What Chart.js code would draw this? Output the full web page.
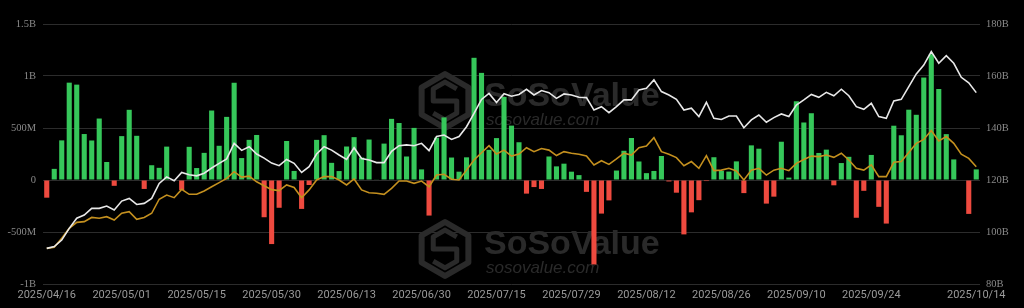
<!DOCTYPE html>
<html>
<head>
<meta charset="utf-8">
<script src="https://cdn.jsdelivr.net/npm/chart.js@4.4.1/dist/chart.umd.min.js"></script>
<style>
  html, body { margin: 0; padding: 0; background: #000; }
  #wrap { width: 1024px; height: 308px; position: relative; }
</style>
</head>
<body>
<div id="wrap"><canvas id="c"></canvas></div>
<script>
// ---- Data ----
const dates = [
 '2025/04/16','2025/04/17','2025/04/21','2025/04/22','2025/04/23','2025/04/24','2025/04/25','2025/04/28','2025/04/29','2025/04/30',
 '2025/05/01','2025/05/02','2025/05/05','2025/05/06','2025/05/07','2025/05/08','2025/05/09','2025/05/12','2025/05/13','2025/05/14',
 '2025/05/15','2025/05/16','2025/05/19','2025/05/20','2025/05/21','2025/05/22','2025/05/23','2025/05/27','2025/05/28','2025/05/29',
 '2025/05/30','2025/06/02','2025/06/03','2025/06/04','2025/06/05','2025/06/06','2025/06/09','2025/06/10','2025/06/11','2025/06/12',
 '2025/06/13','2025/06/16','2025/06/17','2025/06/18','2025/06/20','2025/06/23','2025/06/24','2025/06/25','2025/06/26','2025/06/27',
 '2025/06/30','2025/07/01','2025/07/02','2025/07/03','2025/07/07','2025/07/08','2025/07/09','2025/07/10','2025/07/11','2025/07/14',
 '2025/07/15','2025/07/16','2025/07/17','2025/07/18','2025/07/21','2025/07/22','2025/07/23','2025/07/24','2025/07/25','2025/07/28',
 '2025/07/29','2025/07/30','2025/07/31','2025/08/01','2025/08/04','2025/08/05','2025/08/06','2025/08/07','2025/08/08','2025/08/11',
 '2025/08/12','2025/08/13','2025/08/14','2025/08/15','2025/08/18','2025/08/19','2025/08/20','2025/08/21','2025/08/22','2025/08/25',
 '2025/08/26','2025/08/27','2025/08/28','2025/08/29','2025/09/02','2025/09/03','2025/09/04','2025/09/05','2025/09/08','2025/09/09',
 '2025/09/10','2025/09/11','2025/09/12','2025/09/15','2025/09/16','2025/09/17','2025/09/18','2025/09/19','2025/09/22','2025/09/23',
 '2025/09/24','2025/09/25','2025/09/26','2025/09/29','2025/09/30','2025/10/01','2025/10/02','2025/10/03','2025/10/06','2025/10/07',
 '2025/10/08','2025/10/09','2025/10/10','2025/10/13','2025/10/14'
];

// x-axis tick labels shown on the chart
const xTickLabels = ['2025/04/16','2025/05/01','2025/05/15','2025/05/30','2025/06/13','2025/06/30',
  '2025/07/15','2025/07/29','2025/08/12','2025/08/26','2025/09/10','2025/09/24','2025/10/14'];

// Daily net inflow, millions USD (left axis)
const netInflow = [
 -170, 107, 381, 936, 917, 442, 380, 591, 173, -56,
 422, 675, 425, -86, 142, 117, 321, 0, -96, 319,
 115, 261, 668, 329, 607, 935, 211, 386, 433, -358,
 -616, -267, 375, 87, -278, -48, 386, 431, 165, 86,
 322, 412, 216, 389, 6, 350, 588, 548, 226, 501,
 102, -342, 407, 602, 216, 80, 218, 1175, 1030, 290,
 403, 799, 523, 363, -131, -68, -86, 226, 131, 157,
 80, 47, -114, -812, -323, -196, 91, 281, 404, 178,
 66, 87, 231, -14, -122, -523, -311, -194, -10, 219,
 88, 81, 179, -126, 333, 301, -227, -160, 368, 23,
 757, 553, 642, 260, 292, -51, 163, 223, -363, -104,
 241, -258, -419, 522, 430, 676, 627, 985, 1210, 875,
 441, 198, -5, -326, 102
];

// Total net assets, billions USD (right axis) - white line
const totalNetAssets = [
 93.7, 94.4, 96.9, 101.4, 105.3, 106.5, 109.1, 109.1, 110.0, 108.5,
 111.9, 112.9, 110.6, 111.0, 112.9, 118.7, 121.2, 119.7, 122.9, 122.0,
 121.6, 122.6, 124.6, 126.4, 128.1, 134.1, 131.4, 132.8, 130.0, 128.4,
 126.5, 125.5, 127.9, 126.4, 122.9, 125.1, 130.0, 132.8, 131.5, 129.6,
 127.9, 132.4, 128.3, 127.7, 126.7, 126.7, 131.0, 133.2, 133.5, 133.2,
 134.1, 131.3, 136.7, 137.3, 135.6, 136.7, 140.5, 145.6, 151.0, 153.3,
 149.8, 153.2, 152.2, 152.9, 154.9, 152.7, 154.4, 153.6, 151.4, 153.1,
 152.7, 151.8, 151.7, 146.9, 148.2, 145.9, 148.2, 150.8, 150.8, 154.6,
 155.3, 158.5, 154.0, 152.7, 151.0, 146.9, 147.6, 144.4, 149.9, 143.7,
 143.3, 144.6, 144.6, 140.1, 143.1, 145.0, 142.2, 144.0, 145.4, 144.4,
 148.8, 150.8, 152.9, 151.8, 153.7, 152.4, 154.9, 152.4, 148.2, 147.2,
 149.5, 144.4, 143.7, 150.4, 151.0, 155.9, 160.8, 164.2, 169.4, 164.9,
 167.8, 164.9, 159.5, 157.4, 153.6
];

// Gold line, read in right-axis units (drawn on a hidden axis with the same range)
const goldLine = [
 93.7, 94.1, 97.6, 101.4, 103.7, 104.0, 105.6, 105.3, 105.9, 104.6,
 107.2, 107.8, 104.9, 105.6, 107.2, 112.6, 114.2, 113.2, 116.4, 114.5,
 114.5, 115.8, 117.4, 119.0, 120.6, 123.2, 121.1, 121.5, 119.3, 117.8,
 116.3, 115.9, 118.1, 117.1, 113.2, 116.2, 120.0, 121.3, 121.3, 120.0,
 118.1, 120.4, 116.2, 115.1, 114.9, 114.5, 116.8, 119.6, 119.6, 118.7,
 119.6, 117.4, 121.9, 122.2, 120.3, 120.0, 123.8, 127.7, 130.5, 133.2,
 130.0, 131.5, 129.2, 130.0, 132.4, 130.9, 132.1, 131.5, 129.4, 130.9,
 130.3, 129.9, 129.2, 125.8, 127.4, 126.0, 128.1, 130.3, 129.6, 132.4,
 133.1, 136.3, 130.9, 129.9, 128.6, 125.5, 127.1, 124.5, 129.4, 123.6,
 123.8, 124.5, 123.5, 120.0, 123.8, 124.5, 121.9, 123.8, 124.5, 123.6,
 126.4, 127.9, 129.2, 129.0, 129.6, 128.7, 130.3, 127.7, 124.5, 123.8,
 125.8, 121.3, 121.3, 126.8, 127.1, 130.6, 134.1, 135.6, 139.0, 135.0,
 136.7, 134.1, 129.9, 128.3, 125.1
];

// Axis tick values
const leftTicks = [-1000, -500, 0, 500, 1000, 1500];   // millions
const rightTicks = [80, 100, 120, 140, 160, 180];       // billions

// ---- Styling ----
const GREEN = '#36c75a';
const RED = '#ee4a3f';

const watermark = {
  id: 'watermark',
  beforeDatasetsDraw(chart) {
    const ctx = chart.ctx;
    ctx.save();
    const col = '#2a2a2a';
    function logo(cx, cy, r) {
      ctx.strokeStyle = col;
      ctx.lineWidth = 6;
      ctx.lineJoin = 'round';
      ctx.beginPath();
      for (let k = 0; k < 6; k++) {
        const a = Math.PI / 3 * k - Math.PI / 2;
        const px = cx + r * Math.cos(a), py = cy + r * Math.sin(a);
        if (k === 0) ctx.moveTo(px, py); else ctx.lineTo(px, py);
      }
      ctx.closePath();
      ctx.stroke();
      const s = r * 0.5;
      ctx.lineWidth = 5;
      ctx.beginPath();
      ctx.moveTo(cx + s * 0.87, cy - s * 0.9);
      ctx.lineTo(cx, cy - s * 1.4);
      ctx.lineTo(cx - s * 0.87, cy - s * 0.9);
      ctx.lineTo(cx - s * 0.87, cy);
      ctx.lineTo(cx + s * 0.87, cy);
      ctx.lineTo(cx + s * 0.87, cy + s * 0.9);
      ctx.lineTo(cx, cy + s * 1.4);
      ctx.lineTo(cx - s * 0.87, cy + s * 0.9);
      ctx.stroke();
    }
    function mark(dy) {
      logo(445, 101 + dy, 27);
      ctx.fillStyle = col;
      ctx.textAlign = 'left';
      ctx.textBaseline = 'alphabetic';
      ctx.font = 'bold 34px "Liberation Sans", Arial, sans-serif';
      ctx.fillText('SoSoValue', 484, 106 + dy);
      ctx.font = 'italic 17px "Liberation Sans", Arial, sans-serif';
      ctx.fillText('sosovalue.com', 486, 125 + dy);
    }
    mark(0);
    mark(148);
    ctx.restore();
  }
};

function fmtLeft(v) {
  if (v === 0) return '0';
  if (Math.abs(v) >= 1000) return (v / 1000) + 'B';
  return v + 'M';
}

new Chart(document.getElementById('c'), {
  data: {
    labels: dates,
    datasets: [
      {
        type: 'line', label: 'Total Net Assets', data: totalNetAssets, yAxisID: 'yR',
        borderColor: '#e8e8e8', borderWidth: 1.6, pointRadius: 0, tension: 0, order: 0
      },
      {
        type: 'line', label: 'Gold', data: goldLine, yAxisID: 'yG',
        borderColor: '#c4901f', borderWidth: 1.6, pointRadius: 0, tension: 0, order: 1
      },
      {
        type: 'bar', label: 'Daily Net Inflow', data: netInflow, yAxisID: 'yL',
        backgroundColor: netInflow.map(v => v >= 0 ? GREEN : RED),
        categoryPercentage: 1.0, barPercentage: 0.68, order: 2
      }
    ]
  },
  options: {
    responsive: true,
    maintainAspectRatio: false,
    animation: false,
    devicePixelRatio: 1,
    layout: { padding: { top: 24, left: 0, right: 0, bottom: 0 } },
    plugins: { legend: { display: false }, tooltip: { enabled: false } },
    scales: {
      x: {
        offset: true,
        grid: { display: false, drawTicks: false },
        border: { display: false },
        ticks: {
          autoSkip: false, maxRotation: 0, minRotation: 0, padding: 5,
          color: '#9a9a9a',
          font: { family: 'Roboto, "Liberation Sans", sans-serif', size: 11 },
          callback: function(val, idx) {
            const l = dates[idx];
            return xTickLabels.includes(l) ? l : '';
          }
        },
        afterFit: s => { s.height = 24; }
      },
      yL: {
        position: 'left',
        min: leftTicks[0], max: leftTicks[leftTicks.length - 1],
        afterBuildTicks: s => { s.ticks = leftTicks.map(v => ({ value: v })); },
        grid: { color: '#2c2c2c', lineWidth: 1, drawTicks: false },
        border: { display: false },
        ticks: {
          padding: 7, color: '#8a8a8a',
          font: { family: '"Liberation Serif", serif', size: 10.5 },
          callback: v => fmtLeft(v)
        },
        afterFit: s => { s.width = 43; }
      },
      yR: {
        position: 'right',
        min: rightTicks[0], max: rightTicks[rightTicks.length - 1],
        afterBuildTicks: s => { s.ticks = rightTicks.map(v => ({ value: v })); },
        grid: { display: false, drawTicks: false },
        border: { display: false },
        ticks: {
          padding: 6, color: '#8a8a8a',
          font: { family: '"Liberation Serif", serif', size: 10.5 },
          callback: v => v + 'B'
        },
        afterFit: s => { s.width = 44; }
      },
      yG: {
        display: false,
        min: rightTicks[0], max: rightTicks[rightTicks.length - 1]
      }
    }
  },
  plugins: [watermark]
});
</script>
</body>
</html>
